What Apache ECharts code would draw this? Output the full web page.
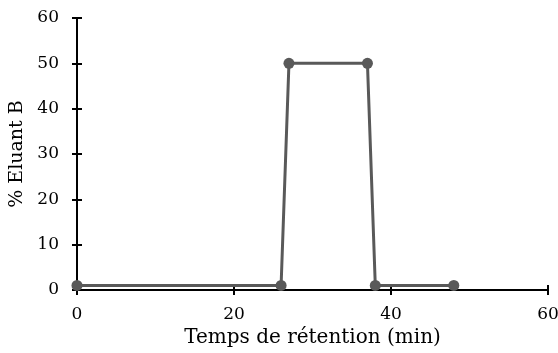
<!DOCTYPE html>
<html>
<head>
<meta charset="utf-8">
<script src="https://cdn.jsdelivr.net/npm/echarts@6/dist/echarts.min.js"></script>
<style>
    html, body { margin: 0; padding: 0; background: #fff; }
    #chart_gradient { width: 558px; height: 353px; }
</style>
</head>
<body>
<div id="chart_gradient"></div>
<script>
// gradient program
var tempsMin = [0, 26, 27, 37, 38, 48];
var eluantB = [1, 1, 50, 50, 1, 1];
var xTicks = [0, 20, 40, 60];
var yTicks = [0, 10, 20, 30, 40, 50, 60];

var font = 'DejaVu Serif';
var points = [];
for (var i = 0; i < tempsMin.length; i++) {
    points.push([tempsMin[i], eluantB[i]]);
}

var gradientChart = echarts.init(document.getElementById('chart_gradient'), null, {renderer: 'canvas'});

// base axis settings, ticks drawn twice (out + in) so they cross the line
function xAx(inside, show) {
    return {
        type: 'value',
        position: 'bottom',
        min: xTicks[0],
        max: xTicks[xTicks.length - 1],
        interval: 20,
        name: show ? 'Temps de rétention (min)' : '',
        nameLocation: 'middle',
        nameGap: 36,
        nameTextStyle: {fontFamily: font, fontSize: 20, color: '#000'},
        axisLine: {show: true, onZero: false, lineStyle: {color: '#000', width: 2}},
        axisTick: {show: true, inside: inside, length: 5, lineStyle: {color: '#000', width: 2}},
        axisLabel: {show: show, margin: 16, fontFamily: font, fontSize: 17, color: '#000'},
        splitLine: {show: false}
    };
}
function yAx(inside, show) {
    return {
        type: 'value',
        position: 'left',
        min: yTicks[0],
        max: yTicks[yTicks.length - 1],
        interval: 10,
        name: show ? '% Eluant B' : '',
        nameLocation: 'middle',
        nameGap: 45,
        nameTextStyle: {fontFamily: font, fontSize: 19, color: '#000'},
        axisLine: {show: true, onZero: false, lineStyle: {color: '#000', width: 2}},
        axisTick: {show: true, inside: inside, length: 5, lineStyle: {color: '#000', width: 2}},
        axisLabel: {show: show, margin: 18, fontFamily: font, fontSize: 17, color: '#000'},
        splitLine: {show: false}
    };
}

var option = {
    animation: false,
    grid: {
        left: 77,
        right: 10,
        top: 18,
        bottom: 63,
        containLabel: false,
        outerBoundsMode: 'none'
    },
    xAxis: [xAx(false, true), xAx(true, false)],
    yAxis: [yAx(false, true), yAx(true, false)],
    series: [
        {
            type: 'line',
            xAxisIndex: 0,
            yAxisIndex: 0,
            data: points,
            symbol: 'circle',
            symbolSize: 11,
            itemStyle: {color: '#595959'},
            lineStyle: {color: '#595959', width: 3}
        }
    ]
};

gradientChart.setOption(option);
</script>
</body>
</html>
